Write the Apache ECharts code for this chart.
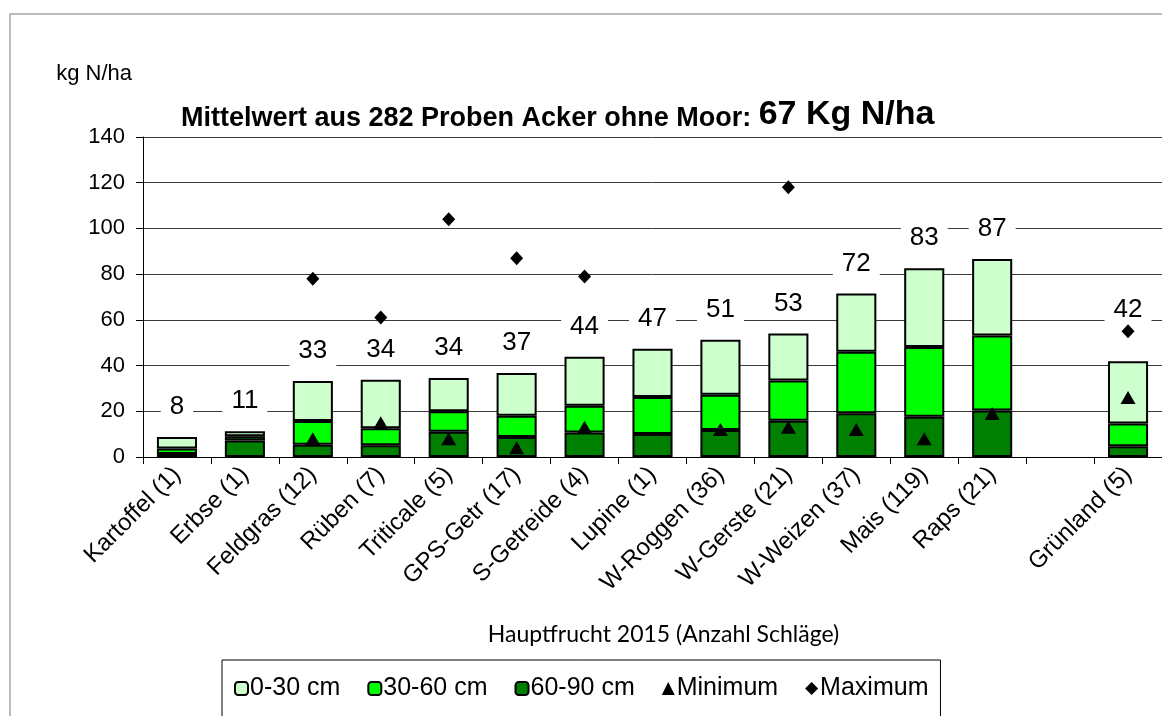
<!DOCTYPE html>
<html><head><meta charset="utf-8">
<script src="https://cdn.jsdelivr.net/npm/echarts@6/dist/echarts.min.js"></script>
<style>html,body{margin:0;padding:0;background:#fff}#c{width:1162px;height:716px}</style>
</head><body><div id="c"></div>
<script>
// ---- data ----
const categories = ['Kartoffel (1)','Erbse (1)','Feldgras (12)','Rüben (7)','Triticale (5)','GPS-Getr (17)','S-Getreide (4)','Lupine (1)','W-Roggen (36)','W-Gerste (21)','W-Weizen (37)','Mais (119)','Raps (21)','','Grünland (5)'];
const layer0to30  = [5.0, 2.2, 17.6, 21.2, 14.6, 18.8, 21.5, 21.2, 24.1, 20.5, 25.5, 34.5, 33.4, null, 27.2];
const layer30to60 = [2.4, 1.9, 10.3, 7.5, 9.0, 9.2, 11.7, 16.1, 15.4, 17.6, 26.9, 30.5, 32.9, null, 10.0];
const layer60to90 = [1.3, 7.2, 5.4, 5.1, 11.0, 8.8, 10.7, 10.1, 11.8, 15.9, 19.1, 17.6, 20.3, null, 4.7];
const totalLabels = [8, 11, 33, 34, 34, 37, 44, 47, 51, 53, 72, 83, 87, null, 42];
const minimumValues = [null, null, 8, 15, 8, 4, 13, null, 12, 13, 12, 8, 19, null, 26];
const maximumValues = [null, null, 78, 61, 104, 87, 79, null, null, 118, null, null, null, null, 55];
const seriesNames = ['0-30 cm', '30-60 cm', '60-90 cm', 'Minimum', 'Maximum'];
const yMin = 0, yMax = 140, yStep = 20;
const titleMain = 'Mittelwert aus 282 Proben Acker ohne Moor: ';
const titleValue = '67 Kg N/ha';
const yName = 'kg N/ha';
const xName = 'Hauptfrucht 2015 (Anzahl Schläge)';

// ---- chart ----
const FONT = '"Liberation Sans", Arial, sans-serif';
const chart = echarts.init(document.getElementById('c'), null, {renderer: 'canvas'});
const barBorder = {borderColor: '#000', borderWidth: 2};

const labelDistances = categories.map(c => (c.indexOf('Grünland') === 0 ? 36 : 15));
const topData = layer0to30.map((v, i) => ({
  value: v,
  label: {distance: labelDistances[i]}
}));

chart.setOption({
  animation: false,
  backgroundColor: '#fff',
  graphic: [{
    type: 'rect', silent: true, z: -10,
    shape: {x: 10, y: 14, width: 1300, height: 900},
    style: {fill: 'none', stroke: '#a6a6a6', lineWidth: 1.5}
  }],
  title: {
    text: '{a|' + titleMain + '}{b|' + titleValue + '}',
    left: 176, top: 91,
    textStyle: {
      rich: {
        a: {fontFamily: FONT, fontSize: 27, fontWeight: 'bold', color: '#000', verticalAlign: 'bottom', lineHeight: 36},
        b: {fontFamily: FONT, fontSize: 34, fontWeight: 'bold', color: '#000', verticalAlign: 'bottom', lineHeight: 36}
      }
    }
  },
  legend: {
    data: seriesNames,
    left: 222, top: 660,
    padding: [16, 12, 40, 12],
    borderColor: '#000', borderWidth: 1,
    itemWidth: 13, itemHeight: 13, itemGap: 27,
    textStyle: {fontFamily: FONT, fontSize: 25, color: '#000', padding: [0, 0, 0, -3]}
  },
  grid: {left: 143, top: 137, width: 1025, height: 320, containLabel: false},
  xAxis: {
    type: 'category',
    data: categories,
    name: xName,
    nameLocation: 'middle',
    nameGap: 166,
    nameTextStyle: {fontFamily: 'Lato, "Open Sans", sans-serif', fontSize: 23, color: '#000', padding: [0, 0, 0, 22], verticalAlign: 'top'},
    axisLine: {lineStyle: {color: '#000', width: 1}},
    axisTick: {show: true, length: 7, interval: 0, lineStyle: {color: '#000'}},
    axisLabel: {interval: 0, rotate: 45, margin: 14, fontFamily: FONT, fontSize: 24, color: '#000'}
  },
  yAxis: {
    type: 'value',
    min: yMin, max: yMax, interval: yStep,
    name: yName,
    nameLocation: 'end',
    nameGap: 52,
    nameTextStyle: {fontFamily: FONT, fontSize: 22, color: '#000', align: 'right', padding: [0, 11, 0, 0]},
    axisLine: {show: true, lineStyle: {color: '#000', width: 1}},
    axisTick: {show: true, length: 7, lineStyle: {color: '#000'}},
    axisLabel: {fontFamily: FONT, fontSize: 22, color: '#000', margin: 18},
    splitLine: {show: true, lineStyle: {color: '#3a3a3a', width: 1}}
  },
  series: [
    {
      name: seriesNames[2], type: 'bar', stack: 'depth', barWidth: '59%',
      itemStyle: Object.assign({color: '#008000'}, barBorder),
      data: layer60to90, z: 2
    },
    {
      name: seriesNames[1], type: 'bar', stack: 'depth', barWidth: '59%',
      itemStyle: Object.assign({color: '#00ff00'}, barBorder),
      data: layer30to60, z: 2
    },
    {
      name: seriesNames[0], type: 'bar', stack: 'depth', barWidth: '59%',
      itemStyle: Object.assign({color: '#ccffcc'}, barBorder),
      data: topData, z: 2,
      label: {
        show: true, position: 'top',
        formatter: p => (totalLabels[p.dataIndex] == null ? '' : String(totalLabels[p.dataIndex])),
        fontFamily: FONT, fontSize: 26, color: '#000', lineHeight: 26,
        backgroundColor: '#fff', padding: [2, 9]
      }
    },
    {
      name: seriesNames[3], type: 'scatter', symbol: 'triangle', symbolSize: [15, 13],
      itemStyle: {color: '#000', opacity: 1}, data: minimumValues, z: 5
    },
    {
      name: seriesNames[4], type: 'scatter', symbol: 'diamond', symbolSize: [13, 14],
      itemStyle: {color: '#000', opacity: 1}, data: maximumValues, z: 5
    }
  ]
});
</script>
</body></html>
